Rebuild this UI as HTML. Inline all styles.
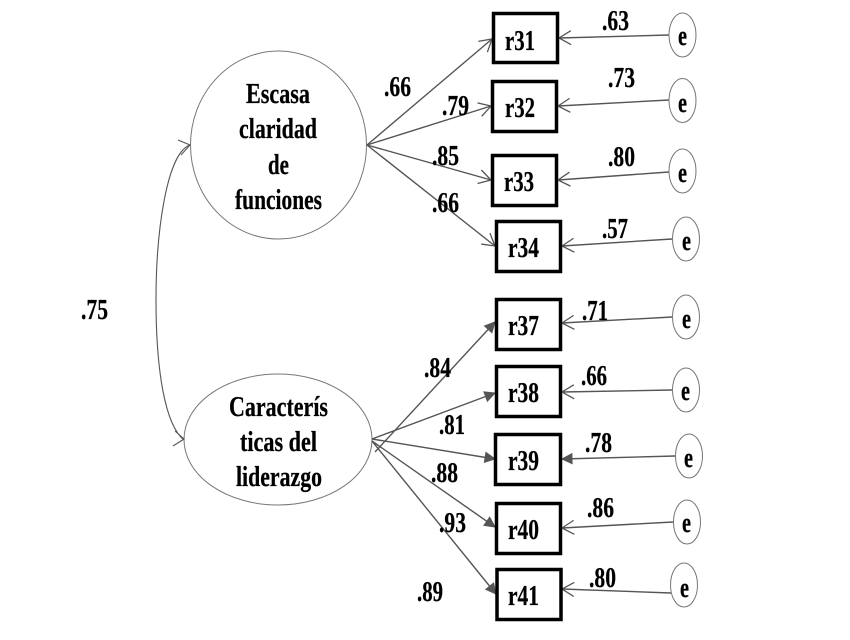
<!DOCTYPE html>
<html><head><meta charset="utf-8"><style>
html,body{margin:0;padding:0;background:#fff}
svg{display:block}
text{font-family:"Liberation Serif",serif;font-weight:bold;fill:#000;font-size:29px;stroke:#000;stroke-width:.25}
.c{fill:none;stroke:#555;stroke-width:1.4}
.b{fill:#fff;stroke:#000;stroke-width:3.5}
.o{fill:#fff;stroke:#777;stroke-width:1}
</style></head><body>
<svg width="850" height="640" viewBox="0 0 850 640" xmlns="http://www.w3.org/2000/svg">
<defs>
<marker id="a" markerUnits="userSpaceOnUse" markerWidth="30" markerHeight="30" refX="15" refY="15" orient="auto" overflow="visible"><path d="M3,8 L15,15 L3,22" fill="none" stroke="#555" stroke-width="1.3"/></marker>
<marker id="f" markerUnits="userSpaceOnUse" markerWidth="30" markerHeight="30" refX="15" refY="15" orient="auto" overflow="visible"><path d="M5,10 L15,15 L5,20 Z" fill="#555" stroke="#555"/></marker>
</defs>
<ellipse class="o" cx="278.5" cy="145" rx="88" ry="94"/>
<ellipse class="o" cx="278" cy="439.5" rx="94" ry="65.5"/>
<path class="c" style="stroke-width:1.1" d="M190,145 C167,153 156,230 156,300 C156,370 165,425 184,440"/>
<path class="c" style="stroke-width:1.1" d="M178,140 L190,145 L181,155 M175,431 L184,439 L173,446"/>
<g class="c">
<line x1="367" y1="145" x2="492" y2="39" marker-end="url(#a)"/>
<line x1="367" y1="145" x2="491" y2="106" marker-end="url(#a)"/>
<line x1="367" y1="145" x2="491" y2="180" marker-end="url(#a)"/>
<line x1="367" y1="145" x2="495" y2="246" marker-end="url(#a)"/>
<line x1="375" y1="452" x2="495" y2="322" marker-end="url(#f)"/>
<line x1="372" y1="439" x2="495" y2="393" marker-end="url(#f)"/>
<line x1="372" y1="439" x2="495" y2="459" marker-end="url(#f)"/>
<line x1="372" y1="441" x2="495" y2="527" marker-end="url(#f)"/>
<line x1="372" y1="441" x2="496" y2="594" marker-end="url(#f)"/>
<line x1="669" y1="35" x2="559" y2="38" marker-end="url(#a)"/>
<line x1="669" y1="100" x2="558" y2="106" marker-end="url(#a)"/>
<line x1="669" y1="172" x2="558" y2="180" marker-end="url(#a)"/>
<line x1="672" y1="239" x2="562" y2="246" marker-end="url(#a)"/>
<line x1="672" y1="317" x2="562" y2="323" marker-end="url(#a)"/>
<line x1="672" y1="390" x2="562" y2="392" marker-end="url(#a)"/>
<line x1="675" y1="456" x2="562" y2="459" marker-end="url(#f)"/>
<line x1="673" y1="522" x2="562" y2="528" marker-end="url(#a)"/>
<line x1="671" y1="593" x2="562" y2="589" marker-end="url(#a)"/>
</g>
<rect class="b" x="493.5" y="13.5" width="64" height="49"/>
<rect class="b" x="492.5" y="81.5" width="64" height="50"/>
<rect class="b" x="492.5" y="155.5" width="64" height="50"/>
<rect class="b" x="496.5" y="221.5" width="64" height="50"/>
<rect class="b" x="496.5" y="299.5" width="64" height="50"/>
<rect class="b" x="496.5" y="366.5" width="64" height="50"/>
<rect class="b" x="495.5" y="434.5" width="65" height="50"/>
<rect class="b" x="496.5" y="503.5" width="64" height="50"/>
<rect class="b" x="497" y="569.5" width="64" height="50"/>
<ellipse class="o" cx="682.5" cy="35" rx="13.5" ry="22"/>
<ellipse class="o" cx="682.5" cy="100.5" rx="13.5" ry="22"/>
<ellipse class="o" cx="682.5" cy="171" rx="13.5" ry="22"/>
<ellipse class="o" cx="686" cy="239" rx="13.5" ry="22"/>
<ellipse class="o" cx="686" cy="317" rx="13.5" ry="22"/>
<ellipse class="o" cx="686" cy="390" rx="13.5" ry="22"/>
<ellipse class="o" cx="689" cy="456" rx="13.5" ry="22"/>
<ellipse class="o" cx="687" cy="522" rx="13.5" ry="22"/>
<ellipse class="o" cx="684" cy="585" rx="13.5" ry="22"/>
<text x="246" y="103" textLength="64" lengthAdjust="spacingAndGlyphs">Escasa</text>
<text x="239" y="138" textLength="78" lengthAdjust="spacingAndGlyphs">claridad</text>
<text x="268" y="174" textLength="21" lengthAdjust="spacingAndGlyphs">de</text>
<text x="235" y="209" textLength="87" lengthAdjust="spacingAndGlyphs">funciones</text>
<text x="229" y="416" textLength="99" lengthAdjust="spacingAndGlyphs">Caracterís</text>
<text x="240" y="451" textLength="77" lengthAdjust="spacingAndGlyphs">ticas del</text>
<text x="236" y="486" textLength="86" lengthAdjust="spacingAndGlyphs">liderazgo</text>
<text x="384" y="96" textLength="27" lengthAdjust="spacingAndGlyphs">.66</text>
<text x="442" y="115" textLength="27" lengthAdjust="spacingAndGlyphs">.79</text>
<text x="432" y="165" textLength="27" lengthAdjust="spacingAndGlyphs">.85</text>
<text x="432" y="212" textLength="27" lengthAdjust="spacingAndGlyphs">.66</text>
<text x="81" y="319" textLength="27" lengthAdjust="spacingAndGlyphs">.75</text>
<text x="424" y="377" textLength="27" lengthAdjust="spacingAndGlyphs">.84</text>
<text x="439" y="434" textLength="26" lengthAdjust="spacingAndGlyphs">.81</text>
<text x="431" y="482" textLength="27" lengthAdjust="spacingAndGlyphs">.88</text>
<text x="439" y="532" textLength="27" lengthAdjust="spacingAndGlyphs">.93</text>
<text x="417" y="601" textLength="26" lengthAdjust="spacingAndGlyphs">.89</text>
<text x="602" y="30" textLength="27" lengthAdjust="spacingAndGlyphs">.63</text>
<text x="608" y="87" textLength="27" lengthAdjust="spacingAndGlyphs">.73</text>
<text x="608" y="166" textLength="27" lengthAdjust="spacingAndGlyphs">.80</text>
<text x="602" y="238" textLength="26" lengthAdjust="spacingAndGlyphs">.57</text>
<text x="582" y="320" textLength="26" lengthAdjust="spacingAndGlyphs">.71</text>
<text x="581" y="385" textLength="26" lengthAdjust="spacingAndGlyphs">.66</text>
<text x="585" y="452" textLength="27" lengthAdjust="spacingAndGlyphs">.78</text>
<text x="587" y="517" textLength="27" lengthAdjust="spacingAndGlyphs">.86</text>
<text x="589" y="587" textLength="27" lengthAdjust="spacingAndGlyphs">.80</text>
<text x="505" y="50" textLength="30" lengthAdjust="spacingAndGlyphs">r31</text>
<text x="505" y="117" textLength="30" lengthAdjust="spacingAndGlyphs">r32</text>
<text x="504" y="191" textLength="30" lengthAdjust="spacingAndGlyphs">r33</text>
<text x="508" y="257" textLength="31" lengthAdjust="spacingAndGlyphs">r34</text>
<text x="508" y="335" textLength="31" lengthAdjust="spacingAndGlyphs">r37</text>
<text x="508" y="402" textLength="31" lengthAdjust="spacingAndGlyphs">r38</text>
<text x="508" y="470" textLength="31" lengthAdjust="spacingAndGlyphs">r39</text>
<text x="508" y="539" textLength="31" lengthAdjust="spacingAndGlyphs">r40</text>
<text x="508" y="605" textLength="31" lengthAdjust="spacingAndGlyphs">r41</text>
<text x="678" y="45" textLength="9" lengthAdjust="spacingAndGlyphs">e</text>
<text x="678" y="112" textLength="9" lengthAdjust="spacingAndGlyphs">e</text>
<text x="678" y="182" textLength="9" lengthAdjust="spacingAndGlyphs">e</text>
<text x="682" y="250" textLength="9" lengthAdjust="spacingAndGlyphs">e</text>
<text x="682" y="328" textLength="9" lengthAdjust="spacingAndGlyphs">e</text>
<text x="681" y="400" textLength="9" lengthAdjust="spacingAndGlyphs">e</text>
<text x="684" y="467" textLength="9" lengthAdjust="spacingAndGlyphs">e</text>
<text x="682" y="532" textLength="9" lengthAdjust="spacingAndGlyphs">e</text>
<text x="680" y="597" textLength="9" lengthAdjust="spacingAndGlyphs">e</text>
</svg>
</body></html>
